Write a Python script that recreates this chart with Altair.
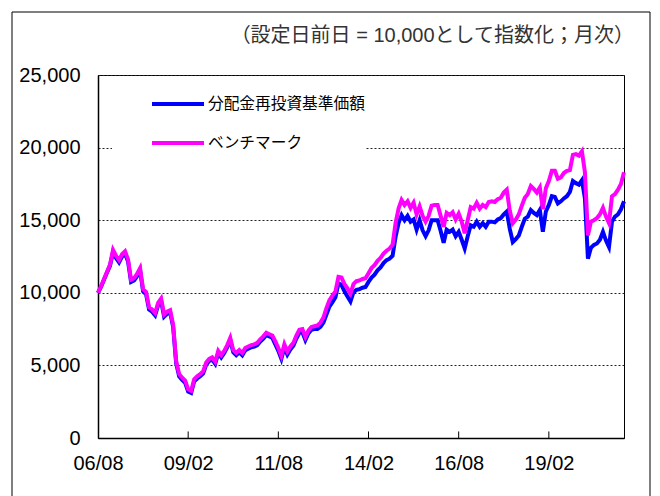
import altair as alt
import pandas as pd

# ---------------- data ----------------
months = pd.period_range("2006-08", "2021-03", freq="M").strftime("%Y/%m").tolist()

fund = [
    10000, 10400, 10900, 11400, 11850, 12800, 12400, 12100, 12500, 12700,
    12150, 10750, 10850, 11150, 11550, 10100, 9900, 8850, 8700, 8450,
    9150, 9450, 8350, 8550, 8650, 7650, 5150, 4250, 4000, 3800,
    3200, 3100, 3900, 4100, 4250, 4450, 5050, 5300, 5400, 5100,
    5850, 5550, 5850, 6250, 6750, 5900, 5700, 5900, 5700, 6050,
    6150, 6250, 6300, 6400, 6650, 6850, 7100, 7000, 6900, 6450,
    6000, 5450, 6250, 5750, 6100, 6350, 6850, 7250, 7300, 6750,
    7200, 7450, 7500, 7500, 7650, 7950, 8500, 9050, 9350, 9700,
    10650, 10550, 10100, 9750, 9400, 10050, 10200, 10250, 10350, 10400,
    10750, 11050, 11250, 11550, 11750, 12050, 12250, 12350, 12550, 13850,
    14800, 15350, 15000, 15300, 14900, 15050, 14350, 15000, 14300, 13900,
    14300, 15000, 15000, 15000, 14250, 13450, 14350, 14200, 14350, 13900,
    14200, 13650, 13050, 13900, 14650, 14550, 14900, 14550, 14800, 14550,
    14900, 14900, 14850, 15050, 15150, 15400, 15600, 14400, 13500, 13700,
    13950, 14550, 15100, 15250, 15700, 15500, 15350, 15700, 14200, 15600,
    16050, 16650, 16600, 16150, 16300, 16500, 16650, 16950, 17700, 17550,
    17450, 17750, 16500, 12350, 13100, 13300, 13400, 13650, 14200, 13600,
    13150, 14900, 15250, 15400, 15750, 16300,
]

bench = [
    10000, 10450, 10950, 11450, 11950, 12950, 12550, 12250, 12650, 12850,
    12300, 10900, 11000, 11300, 11700, 10250, 10050, 9000, 8850, 8600,
    9300, 9600, 8500, 8700, 8800, 7800, 5300, 4400, 4150, 3950,
    3350, 3250, 4050, 4250, 4400, 4600, 5200, 5450, 5550, 5250,
    6000, 5700, 6000, 6400, 6900, 6050, 5850, 6050, 5850, 6200,
    6300, 6400, 6450, 6550, 6800, 7000, 7250, 7150, 7050, 6650,
    6200, 5650, 6450, 5950, 6300, 6550, 7050, 7450, 7500, 6950,
    7400, 7650, 7700, 7750, 7950, 8300, 8950, 9500, 9800, 10100,
    11100, 11050, 10600, 10300, 9950, 10600, 10800, 10850, 10950, 11000,
    11350, 11700, 11900, 12200, 12400, 12700, 12900, 13050, 13300, 14800,
    15800, 16400, 16050, 16300, 15850, 16200, 15400, 15950, 15300, 14900,
    15300, 16000, 16050, 16050, 15300, 14550, 15500, 15350, 15550, 15050,
    15450, 14900, 14100, 15000, 15900, 15800, 16200, 15800, 16050, 15900,
    16250, 16300, 16250, 16450, 16550, 16900, 17100, 15650, 14800, 15050,
    15400, 16000, 16550, 16800, 17350, 17150, 16900, 17250, 15750, 17200,
    17700, 18400, 18400, 17850, 17950, 18250, 18400, 18450, 19500, 19550,
    19450, 19750, 18300, 13950, 14900, 15000, 15150, 15400, 15850, 15250,
    14800, 16650, 16800, 17100, 17500, 18300,
]

tick_index = [0, 30, 60, 90, 120, 150]
tick_labels = ["06/08", "09/02", "11/08", "14/02", "16/08", "19/02"]
y_ticks = [0, 5000, 10000, 15000, 20000, 25000]

FUND = "分配金再投資基準価額"
BENCH = "ベンチマーク"
TITLE = "（設定日前日 = 10,000として指数化；月次）"

n = len(months)
df = pd.DataFrame({
    "idx": list(range(n)) * 2,
    "month": months * 2,
    "series": [FUND] * n + [BENCH] * n,
    "value": fund + bench,
})

NUM_FONT = "Liberation Sans"
JP_FONT = "Liberation Sans, Noto Sans CJK JP"

label_expr = "[" + ",".join("'%s'" % t for t in tick_labels) + "][round(datum.value/30)]"

x_enc = alt.X(
    "idx:Q",
    scale=alt.Scale(domain=[0, n - 1], nice=False, zero=False),
    axis=alt.Axis(
        values=tick_index, labelExpr=label_expr, title=None, grid=False,
        ticks=False, labelFontSize=20, labelFont=NUM_FONT, labelColor="black",
        labelPadding=15, domainColor="black", domainWidth=1.5, labelFlush=False,
    ),
)
y_enc = alt.Y(
    "value:Q",
    scale=alt.Scale(domain=[0, 25000], nice=False),
    axis=alt.Axis(
        values=y_ticks, format=",d", title=None, grid=True, gridDash=[2, 2],
        gridColor="#222222", gridWidth=1, ticks=False, labelFontSize=20,
        labelFont=NUM_FONT, labelColor="black", labelPadding=18,
        domainColor="black", domainWidth=1.5,
    ),
)
color_enc = alt.Color(
    "series:N",
    scale=alt.Scale(domain=[FUND, BENCH], range=["#0000FF", "#FF00FF"]),
    legend=alt.Legend(
        title=None, orient="none", legendX=14, legendY=1, fillColor="white",
        padding=0, symbolType="stroke", symbolStrokeWidth=4, symbolSize=2704,
        symbolOffset=38, labelOffset=2, labelFont=JP_FONT, labelFontSize=15.7,
        labelColor="black", rowPadding=3, labelLimit=400,
    ),
)

base = alt.Chart(df).encode(x=x_enc, y=y_enc, color=color_enc)
fund_line = base.mark_line(strokeWidth=4).transform_filter(alt.datum.series == FUND)
bench_line = base.mark_line(strokeWidth=4).transform_filter(alt.datum.series == BENCH)

tick_rules = alt.Chart(pd.DataFrame({"idx": tick_index[1:]})).mark_rule(
    color="black", strokeWidth=1
).encode(x="idx:Q", y=alt.datum(0), y2=alt.datum(450))

one = pd.DataFrame({"k": [0]})

frame = alt.Chart(one).mark_rect(
    fillOpacity=0, stroke="black", strokeWidth=1, clip=False
).encode(x=alt.value(-86), x2=alt.value(552), y=alt.value(-63), y2=alt.value(440))

title_text = alt.Chart(one).mark_text(
    text=TITLE, align="right", baseline="middle", fontSize=20, font=JP_FONT,
    color="#333333", clip=False,
).encode(x=alt.value(536), y=alt.value(-39))

chart = alt.layer(fund_line, bench_line, tick_rules, frame, title_text).properties(
    width=526, height=363,
    autosize=alt.AutoSizeParams(type="none"),
    padding={"left": 90, "top": 67, "right": 28, "bottom": 58},
).configure_view(stroke="black", strokeWidth=1)

chart.save("out.html", embed_options={"renderer": "svg", "actions": False})
